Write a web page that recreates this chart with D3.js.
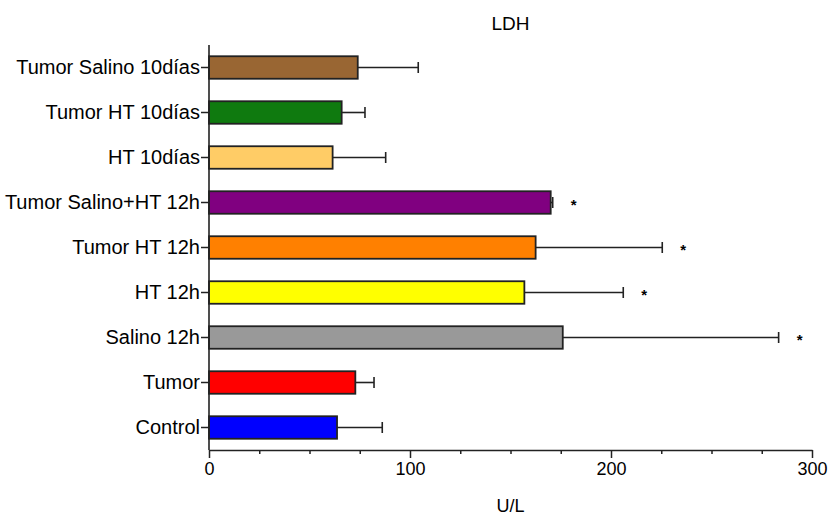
<!DOCTYPE html>
<html>
<head>
<meta charset="utf-8">
<script src="https://cdn.jsdelivr.net/npm/d3@7"></script>
<style>
  html, body { margin: 0; padding: 0; background: #fff; }
  svg text { font-family: "Liberation Sans", Arial, Helvetica, sans-serif; fill: #000; }
</style>
</head>
<body>
<svg id="chart" width="830" height="515"></svg>
<script>
const categories = ["Tumor Salino 10días", "Tumor HT 10días", "HT 10días", "Tumor Salino+HT 12h", "Tumor HT 12h", "HT 12h", "Salino 12h", "Tumor", "Control"];
const means = [74.0, 66.0, 61.5, 170.0, 162.5, 156.9, 176.0, 72.8, 63.7];
const errors = [30.1, 11.6, 26.4, 1.0, 63.0, 49.2, 107.4, 9.3, 22.5];
const colors = ["#996633", "#0f7a0f", "#ffcc66", "#800080", "#ff8000", "#ffff00", "#999999", "#ff0000", "#0000ff"];
const significant = [false, false, false, true, true, true, true, false, false];
const majorTicks = [0, 100, 200, 300];
const minorTicks = [25, 50, 75, 125, 150, 175, 225, 250, 275];
const title = "LDH";
const xTitle = "U/L";

const svg = d3.select("#chart");
const x = d3.scaleLinear().domain([0, 300]).range([209, 812]);
const y = d3.scaleBand().domain(categories).range([45, 450]).paddingInner(0.5).paddingOuter(0.25);

const rows = categories.map((c, i) => ({ c, m: means[i], e: errors[i], col: colors[i], sig: significant[i] }));

// error bars
const eb = svg.append("g").attr("stroke", "#222").attr("stroke-width", 1.6);
rows.forEach(d => {
  const cy = y(d.c) + y.bandwidth() / 2;
  eb.append("line").attr("x1", x(d.m)).attr("x2", x(d.m + d.e)).attr("y1", cy).attr("y2", cy);
  eb.append("line").attr("x1", x(d.m + d.e)).attr("x2", x(d.m + d.e)).attr("y1", cy - 5.5).attr("y2", cy + 5.5);
});

// bars
svg.append("g").selectAll("rect").data(rows).join("rect")
  .attr("x", x(0))
  .attr("y", d => y(d.c))
  .attr("width", d => x(d.m) - x(0))
  .attr("height", y.bandwidth())
  .attr("fill", d => d.col)
  .attr("stroke", "#222")
  .attr("stroke-width", 1.8);

// significance stars
svg.append("g").selectAll("text").data(rows.filter(d => d.sig)).join("text")
  .attr("x", d => x(d.m + d.e) + 21)
  .attr("y", d => y(d.c) + y.bandwidth() / 2 + 7)
  .attr("text-anchor", "middle")
  .attr("font-size", 15)
  .attr("font-weight", "bold")
  .text("*");

// y axis
const yAxis = svg.append("g").attr("transform", `translate(${x(0)},0)`)
  .call(d3.axisLeft(y).tickSize(8).tickPadding(1).tickSizeOuter(0));
yAxis.select(".domain").attr("d", `M0,45V450`).attr("stroke", "#222").attr("stroke-width", 1.6);
yAxis.selectAll(".tick line").attr("stroke", "#222").attr("stroke-width", 1.5);
yAxis.selectAll(".tick text").attr("font-size", 20).attr("fill", "#000");

// x axis
const xAxis = svg.append("g").attr("transform", "translate(0,450)")
  .call(d3.axisBottom(x).tickValues(majorTicks).tickSize(8).tickPadding(4).tickSizeOuter(0));
xAxis.select(".domain").attr("stroke", "#222").attr("stroke-width", 1.6);
xAxis.selectAll(".tick line").attr("stroke", "#222").attr("stroke-width", 1.5);
xAxis.selectAll(".tick text").attr("font-size", 18).attr("fill", "#000");
const xMinor = svg.append("g").attr("transform", "translate(0,450)")
  .call(d3.axisBottom(x).tickValues(minorTicks).tickSize(4).tickFormat(""));
xMinor.select(".domain").remove();
xMinor.selectAll(".tick line").attr("stroke", "#222").attr("stroke-width", 1.5);

// titles
svg.append("text").attr("x", (x(0) + x(300)) / 2).attr("y", 30)
  .attr("text-anchor", "middle").attr("font-size", 19).text(title);
svg.append("text").attr("x", (x(0) + x(300)) / 2).attr("y", 512)
  .attr("text-anchor", "middle").attr("font-size", 18).text(xTitle);
</script>
</body>
</html>
